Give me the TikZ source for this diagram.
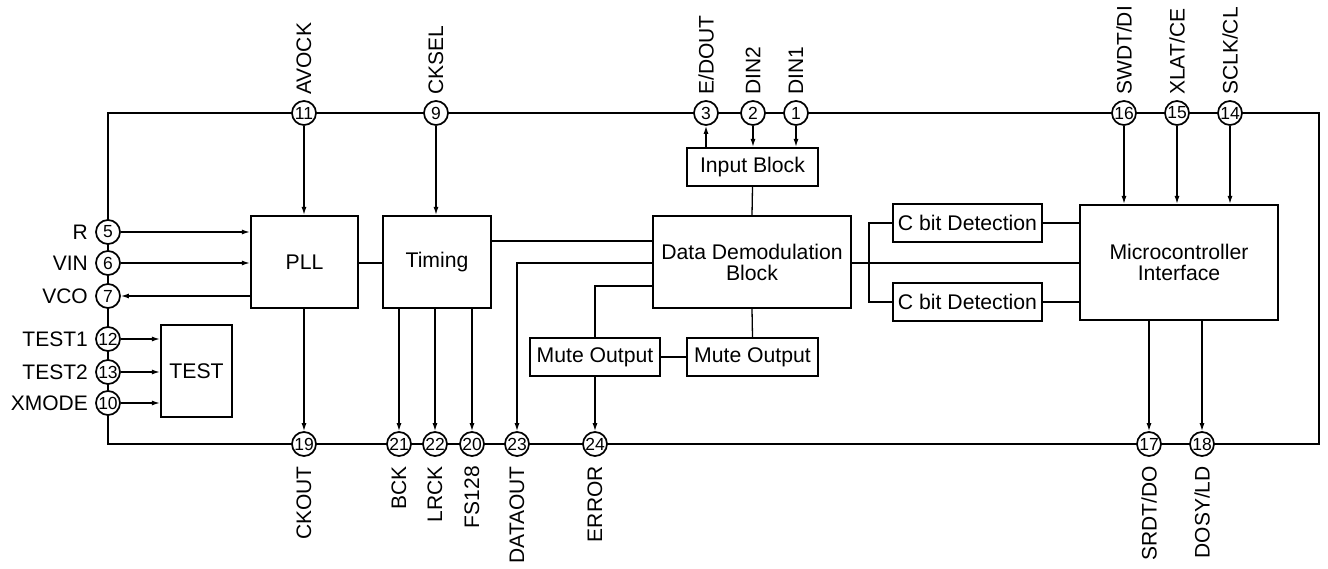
\documentclass[tikz,border=0pt]{standalone}
\usepackage{fontspec}
\setmainfont{Liberation Sans}
\usetikzlibrary{arrows.meta}
\tikzset{
  blk/.style={draw, line width=2.2pt, inner sep=0pt, align=center, font=\fontsize{21.2}{21}\selectfont},
  pin/.style={draw, circle, line width=1.7pt, fill=white, minimum size=24pt, inner sep=0pt, font=\fontsize{17.5}{17.5}\selectfont},
  wire/.style={line width=1.3pt},
  arr/.style={wire, -{Latex[length=8pt,width=5pt]}},
  frame/.style={line width=2.7pt},
  toplab/.style={rotate=90, anchor=west, inner sep=0pt, font=\fontsize{21}{21}\selectfont},
  botlab/.style={rotate=90, anchor=east, inner sep=0pt, font=\fontsize{21}{21}\selectfont},
  leftlab/.style={anchor=east, inner sep=0pt, font=\fontsize{21}{21}\selectfont}
}
\begin{document}
\begin{tikzpicture}[x=1pt,y=-1pt]
\useasboundingbox (0,0) rectangle (1328,568);
% frame
\draw[frame] (108,113) rectangle (1319,444);
% blocks
\node[blk, minimum width=107pt, minimum height=92pt] (pll) at (304.5,262) {PLL};
\node[blk, minimum width=108pt, minimum height=92pt] (timing) at (437,262) {Timing};
\node[blk, minimum width=71pt, minimum height=92pt] (test) at (196.5,371) {TEST};
\node[blk, minimum width=198pt, minimum height=92pt] (ddb) at (752,262) {Data Demodulation\\Block};
\node[blk, minimum width=131pt, minimum height=38pt] (input) at (752.5,167) {Input Block};
\node[blk, minimum width=130pt, minimum height=38pt] (mutel) at (595,357) {Mute Output};
\node[blk, minimum width=131pt, minimum height=38pt] (muter) at (752.5,357) {Mute Output};
\node[blk, minimum width=149pt, minimum height=38pt] (cbitt) at (967.5,223) {C bit Detection};
\node[blk, minimum width=149pt, minimum height=38pt] (cbitb) at (967.5,302) {C bit Detection};
\node[blk, minimum width=198pt, minimum height=115pt] (micro) at (1179,262.5) {Microcontroller\\Interface};
% pins top
\node[pin] (p11) at (304,113) {11};
\node[pin] (p9) at (436,113) {9};
\node[pin] (p3) at (706,113) {3};
\node[pin] (p2) at (753,113) {2};
\node[pin] (p1) at (796,113) {1};
\node[pin] (p16) at (1124,113) {16};
\node[pin] (p15) at (1177,113) {15};
\node[pin] (p14) at (1230,113) {14};
% pins left
\node[pin] (p5) at (108,232) {5};
\node[pin] (p6) at (108,263) {6};
\node[pin] (p7) at (108,296) {7};
\node[pin] (p12) at (108,339) {12};
\node[pin] (p13) at (108,372) {13};
\node[pin] (p10) at (108,403) {10};
% pins bottom
\node[pin] (p19) at (304,444) {19};
\node[pin] (p21) at (399,444) {21};
\node[pin] (p22) at (435,444) {22};
\node[pin] (p20) at (472,444) {20};
\node[pin] (p23) at (517,444) {23};
\node[pin] (p24) at (595,444) {24};
\node[pin] (p17) at (1149,444) {17};
\node[pin] (p18) at (1202,444) {18};
% labels top
\node[toplab] (l11) at (304,95) {AVOCK};
\node[toplab] (l9) at (436,95) {CKSEL};
\node[toplab] (l3) at (706,95) {E/DOUT};
\node[toplab] (l2) at (753,95) {DIN2};
\node[toplab] (l1) at (796,95) {DIN1};
\node[toplab] (l16) at (1124,95) {SWDT/DI};
\node[toplab] (l15) at (1177,95) {XLAT/CE};
\node[toplab] (l14) at (1230,95) {SCLK/CL};
% labels bottom
\node[botlab] (l19) at (304,466) {CKOUT};
\node[botlab] (l21) at (399,466) {BCK};
\node[botlab] (l22) at (435,466) {LRCK};
\node[botlab] (l20) at (472,466) {FS128};
\node[botlab] (l23) at (517,466) {DATAOUT};
\node[botlab] (l24) at (595,466) {ERROR};
\node[botlab] (l17) at (1149,466) {SRDT/DO};
\node[botlab] (l18) at (1202,466) {DOSY/LD};
% labels left
\node[leftlab] (l5) at (88,232) {R};
\node[leftlab] (l6) at (88,263) {VIN};
\node[leftlab] (l7) at (88,296) {VCO};
\node[leftlab] (l12) at (88,339) {TEST1};
\node[leftlab] (l13) at (88,372) {TEST2};
\node[leftlab] (l10) at (88,403) {XMODE};
% connectors
\draw[arr] (p11) -- (p11 |- pll.north);
\draw[arr] (p9) -- (p9 |- timing.north);
\draw[arr] (p5) -- (p5 -| pll.west);
\draw[arr] (p6) -- (p6 -| pll.west);
\draw[arr] (p7 -| pll.west) -- (p7);
\draw[arr] (p12) -- (p12 -| test.west);
\draw[arr] (p13) -- (p13 -| test.west);
\draw[arr] (p10) -- (p10 -| test.west);
\draw[arr] (pll.south -| p19) -- (p19);
\draw[wire] (pll.east |- p6) -- (timing.west |- p6);
\draw[arr] (timing.south -| p21) -- (p21);
\draw[arr] (timing.south -| p22) -- (p22);
\draw[arr] (timing.south -| p20) -- (p20);
\draw[wire] (timing.east |- 0,241) -- (ddb.west |- 0,241);
\draw[arr] (ddb.west |- 0,263) -| (p23);
\draw[wire] (ddb.west |- 0,286) -| (mutel.north);
\draw[arr] (mutel.south) -- (p24);
\draw[wire] (mutel.east) -- (muter.west);
\draw[wire] (ddb.south) -- (muter.north);
\draw[wire] (input.south) -- (ddb.north);
\draw[arr] (input.north -| p3) -- (p3);
\draw[arr] (p2) -- (p2 |- input.north);
\draw[arr] (p1) -- (p1 |- input.north);
\draw[wire] (ddb.east |- 0,263) -- (micro.west |- 0,263);
\draw[wire] (cbitt.west) -- ++(-23,0) coordinate (br) |- (cbitb.west);
\draw[wire] (cbitt.east) -- (cbitt.east -| micro.west);
\draw[wire] (cbitb.east) -- (cbitb.east -| micro.west);
\draw[arr] (p16) -- (p16 |- micro.north);
\draw[arr] (p15) -- (p15 |- micro.north);
\draw[arr] (p14) -- (p14 |- micro.north);
\draw[arr] (micro.south -| p17) -- (p17);
\draw[arr] (micro.south -| p18) -- (p18);
\end{tikzpicture}
\end{document}
